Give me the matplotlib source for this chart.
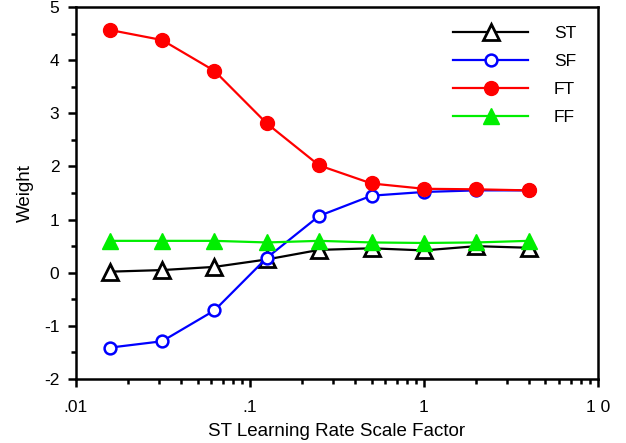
import numpy as np
import matplotlib.pyplot as plt
from matplotlib.ticker import FixedLocator, FixedFormatter, LogLocator, NullFormatter

plt.rcParams['font.family'] = ['Liberation Sans', 'DejaVu Sans']
plt.rcParams['axes.unicode_minus'] = False

# data
scale = [1/64, 1/32, 1/16, 1/8, 1/4, 1/2, 1, 2, 4]
st = [0.02, 0.05, 0.11, 0.25, 0.43, 0.46, 0.42, 0.50, 0.47]
sf = [-1.41, -1.29, -0.71, 0.28, 1.07, 1.45, 1.52, 1.55, 1.55]
ft = [4.57, 4.38, 3.80, 2.81, 2.02, 1.68, 1.58, 1.57, 1.55]
ff = [0.60, 0.60, 0.60, 0.57, 0.60, 0.57, 0.56, 0.57, 0.60]

xticks = [0.01, 0.1, 1, 10]
xticklabels = ['.01', '.1', '1', '1 0']

# plotting
fig = plt.figure(figsize=(6.26, 4.43), dpi=100)
ax = fig.add_axes([0.1214, 0.1445, 0.8336, 0.8395])

ax.plot(scale, st, color='black', lw=1.6, marker='^', ms=11, mfc='white', mec='black', mew=2, label='ST')
ax.plot(scale, sf, color='blue', lw=1.6, marker='o', ms=8.5, mfc='white', mec='blue', mew=1.8, label='SF')
ax.plot(scale, ft, color='red', lw=1.6, marker='o', ms=10, mfc='red', mec='red', label='FT')
ax.plot(scale, ff, color='#00ee00', lw=1.6, marker='^', ms=12, mfc='#00ee00', mec='#00ee00', label='FF')

ax.set_xscale('log')
ax.set_xlim(0.01, 10)
ax.set_ylim(-2, 5)
ax.xaxis.set_major_locator(FixedLocator(xticks))
ax.xaxis.set_major_formatter(FixedFormatter(xticklabels))
ax.xaxis.set_minor_locator(LogLocator(base=10, subs=np.arange(2, 10)))
ax.xaxis.set_minor_formatter(NullFormatter())
ax.set_yticks(range(-2, 6))
ax.set_yticks(np.arange(-1.5, 5, 1), minor=True)

for s in ax.spines.values():
    s.set_linewidth(1.8)
ax.tick_params(which='major', direction='out', length=6, width=1.8, labelsize=12.5, top=False, right=False)
ax.tick_params(axis='x', which='major', pad=9)
ax.tick_params(axis='y', which='major', pad=6)
ax.tick_params(which='minor', direction='out', length=3.5, width=1.8, top=False, right=False)

ax.set_xlabel('ST Learning Rate Scale Factor', fontsize=13.5, labelpad=6)
ax.set_ylabel('Weight', fontsize=13.5, labelpad=7)

ax.legend(loc='upper right', bbox_to_anchor=(1.005, 1.015), frameon=False, fontsize=12.5,
          handlelength=4.3, markerfirst=True, handletextpad=1.5, labelspacing=0.75, borderaxespad=1.0)

plt.savefig('out.png', dpi=100, facecolor='white')
